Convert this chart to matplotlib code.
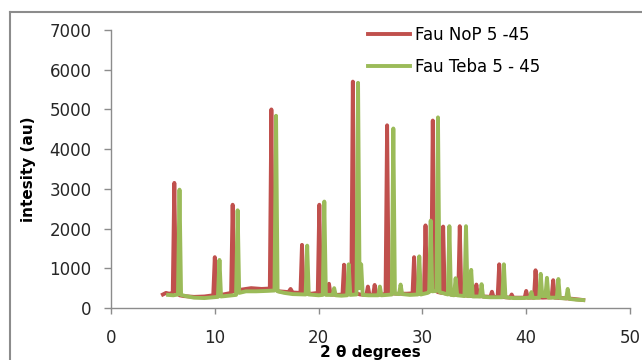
import matplotlib
matplotlib.use('Agg')
import matplotlib.pyplot as plt
from matplotlib.lines import Line2D
import numpy as np

# Fau NoP 5 -45  (2 theta, intensity)
nop_x = [5.0, 5.3, 5.6, 5.95, 6.1, 6.25, 6.6, 7.0, 8.0, 9.0, 9.85, 10.0, 10.15,
         10.8, 11.57, 11.72, 11.87, 12.5, 13.5, 14.5, 15.3, 15.45, 15.6,
         16.2, 17.1, 17.3, 17.5, 18.25, 18.4, 18.55, 19.3, 19.92, 20.07, 20.22,
         20.85, 21.0, 21.15, 21.8, 22.3, 22.45, 22.6, 23.15, 23.3, 23.45,
         24.0, 24.6, 24.75, 24.9, 25.25, 25.4, 25.55, 26.0, 26.45, 26.6, 26.75,
         27.5, 28.5, 29.05, 29.2, 29.35, 29.8, 30.15, 30.3, 30.45, 30.85, 31.0,
         31.15, 31.5, 31.85, 32.0, 32.15,
         32.8, 33.45, 33.6, 33.75, 34.3, 35.05, 35.2, 35.35, 36.0, 36.55, 36.7,
         36.85, 37.25, 37.4, 37.55, 38.0, 38.45, 38.6, 38.75, 39.3, 39.85, 40.0,
         40.15, 40.75, 40.9, 41.05, 41.6, 42.45, 42.6, 42.75, 43.5, 44.5, 45.5]
nop_y = [340, 380, 360, 380, 3150, 420, 320, 300, 280, 290, 320, 1280, 330,
         340, 380, 2600, 420, 460, 500, 480, 490, 5000, 480,
         420, 400, 480, 390, 380, 1590, 380, 360, 380, 2600, 360,
         350, 610, 340, 330, 340, 1090, 340, 360, 5700, 380,
         340, 330, 540, 330, 330, 580, 330, 340, 350, 4600, 370,
         360, 360, 370, 1280, 380, 390, 400, 2080, 430, 450, 4720,
         450, 400, 380, 2050, 370,
         340, 330, 2060, 330, 310, 300, 590, 300, 290, 280, 410,
         280, 280, 1100, 280, 270, 260, 340, 260, 260, 260, 430,
         260, 260, 950, 270, 260, 270, 700, 260, 250, 230, 200]

# Fau Teba 5 - 45
teba_x = [5.5, 6.0, 6.45, 6.6, 6.75, 7.2, 8.0, 9.0, 10.3, 10.45, 10.6,
          11.0, 12.05, 12.2, 12.35, 13.0, 14.0, 15.0, 15.75, 15.9, 16.05,
          16.7, 17.5, 18.75, 18.9, 19.05, 20.0, 20.4, 20.55, 20.7,
          21.35, 21.5, 21.65, 22.2, 22.75, 22.9, 23.05, 23.65, 23.8, 23.95,
          24.1, 24.25, 24.8, 25.3, 25.75, 25.9, 26.05, 26.6, 27.05, 27.2, 27.35,
          27.75, 27.9, 28.05, 28.8, 29.55, 29.7, 29.85, 30.5, 30.65, 30.8, 30.95,
          31.35, 31.5, 31.65, 32.45, 32.6, 32.75, 33.05, 33.2, 33.35,
          34.05, 34.2, 34.35, 34.55, 34.7, 34.85, 35.55, 35.7, 35.85, 36.5,
          37.7, 37.85, 38.0, 38.8, 39.5, 40.35, 40.5, 40.65, 41.25, 41.4, 41.55,
          41.85, 42.0, 42.15, 42.95, 43.1, 43.25, 43.85, 44.0, 44.15, 44.8, 45.5]
teba_y = [330, 320, 340, 2980, 330, 300, 260, 250, 280, 1210, 290,
          300, 330, 2460, 380, 420, 420, 430, 440, 4840, 420,
          380, 350, 340, 1570, 340, 320, 330, 2680, 330,
          330, 500, 320, 310, 320, 1100, 330, 340, 5670, 500,
          1100, 330, 320, 320, 320, 540, 320, 330, 340, 4520, 360,
          350, 590, 350, 330, 340, 1300, 340, 380, 400, 2200, 420,
          430, 4800, 400, 340, 2060, 330, 320, 750, 320,
          300, 2060, 300, 300, 960, 290, 290, 600, 280, 270,
          270, 1100, 270, 250, 250, 260, 400, 250, 260, 860, 300,
          300, 760, 260, 260, 730, 250, 240, 480, 230, 210, 200]

W, H = 642, 360
fig = plt.figure(figsize=(W / 100, H / 100), dpi=100)
ax = fig.add_axes([111 / W, 1 - 308 / H, (630 - 111) / W, (308 - 30) / H])

ax.plot(nop_x, nop_y, color='#C0504D', lw=2.8, label='Fau NoP 5 -45', solid_joinstyle='round')
ax.plot(teba_x, teba_y, color='#9BBB59', lw=2.8, label='Fau Teba 5 - 45', solid_joinstyle='round')

ax.set_xlim(0, 50)
ax.set_ylim(0, 7000)
ax.set_xticks(np.arange(0, 51, 10))
ax.set_yticks(np.arange(0, 7001, 1000))

gray = '#8C8C8C'
for s in ['top', 'right']:
    ax.spines[s].set_visible(False)
for s in ['left', 'bottom']:
    ax.spines[s].set_color(gray)
    ax.spines[s].set_linewidth(1.0)
ax.tick_params(axis='y', length=5, width=1, color=gray, pad=9, labelsize=12, labelcolor='#262626')
ax.tick_params(axis='x', length=4, width=1, color=gray, pad=11, labelsize=12, labelcolor='#262626')

ax.set_ylabel('intesity (au)', fontsize=11, fontweight='bold', labelpad=10)
fig.text(370 / W, 1 - 353 / H, '2 θ degrees', ha='center', va='center',
         fontsize=11, fontweight='bold')

ax.legend(loc='upper left', bbox_to_anchor=(368 / W, 1 - 26 / H),
          bbox_transform=fig.transFigure, frameon=False, fontsize=12,
          handlelength=2.5, handletextpad=0.35, labelspacing=0.85,
          borderpad=0, borderaxespad=0)

# chart area border (Excel style)
fig.add_artist(Line2D([10 / W, 1], [1 - 12 / H, 1 - 12 / H], color=gray, lw=1.5))
fig.add_artist(Line2D([10 / W, 10 / W], [0, 1 - 12 / H], color=gray, lw=1.5))

fig.savefig('out.png', dpi=100)
